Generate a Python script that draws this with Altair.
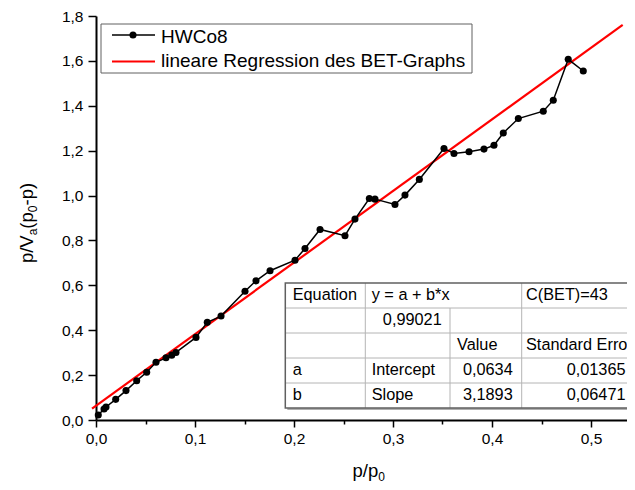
import altair as alt
import pandas as pd

# ---------------- data ----------------
p_rel = [0.0023, 0.0081, 0.0101, 0.0199, 0.0303, 0.0411, 0.0512, 0.0606, 0.0707, 0.0765,
         0.0808, 0.1010, 0.1124, 0.1263, 0.1505, 0.1616, 0.1758, 0.2010, 0.2111, 0.2263,
         0.2515, 0.2616, 0.2761, 0.2818, 0.3020, 0.3121, 0.3266, 0.3515, 0.3616, 0.3768,
         0.3919, 0.4020, 0.4114, 0.4266, 0.4518, 0.4619, 0.4770, 0.4922]
bet_y = [0.022, 0.049, 0.058, 0.092, 0.131, 0.175, 0.213, 0.257, 0.277, 0.289,
         0.301, 0.368, 0.435, 0.463, 0.574, 0.620, 0.665, 0.712, 0.764, 0.849,
         0.821, 0.895, 0.987, 0.984, 0.960, 1.002, 1.072, 1.210, 1.187, 1.195,
         1.207, 1.224, 1.279, 1.343, 1.376, 1.425, 1.607, 1.555]
reg_x = [-0.004, 0.532]
reg_y = [0.051, 1.760]

x_ticks = [0.0, 0.05, 0.1, 0.15, 0.2, 0.25, 0.3, 0.35, 0.4, 0.45, 0.5]
y_ticks = [0.0, 0.1, 0.2, 0.3, 0.4, 0.5, 0.6, 0.7, 0.8, 0.9, 1.0,
           1.1, 1.2, 1.3, 1.4, 1.5, 1.6, 1.7, 1.8]

series_names = ["HWCo8", "lineare Regression des BET-Graphs"]
table_cells = [
    ["Equation", "y = a + b*x", "", "C(BET)=43"],
    ["", "0,99021", "", ""],
    ["", "", "Value", "Standard Erro"],
    ["a", "Intercept", "0,0634", "0,01365"],
    ["b", "Slope", "3,1893", "0,06471"],
]
# axis titles split into (text, is_subscript) pieces
x_title = [("p/p", False), ("0", True)]
y_title = [("p/V", False), ("a", True), ("(p", False), ("0", True), ("-p)", False)]

# ---------------- layout ----------------
FONT = "Liberation Sans"
W, H = 531, 404
X_MAX = 531 / 990
FS_T, FS_SUB = 18.5, 12
DOT = 50

df = pd.DataFrame({"x": p_rel, "y": bet_y})
reg = pd.DataFrame({"x": reg_x, "y": reg_y})

x_major = "abs(datum.value*10 - round(datum.value*10)) < 1e-6"
y_major = "abs(datum.value*5 - round(datum.value*5)) < 1e-6"

xscale = alt.Scale(domain=[0, X_MAX], nice=False, zero=False)
yscale = alt.Scale(domain=[0, 1.8], nice=False)

common_axis = dict(
    grid=False, title="", labelFontSize=15.5, labelFont=FONT, labelColor="black",
    domainColor="black", domainWidth=2, tickColor="black", tickWidth=1.5,
    labelOverlap=False, labelFlush=False,
)
xaxis = alt.Axis(
    values=x_ticks,
    labelExpr=f"{x_major} ? replace(format(datum.value, '.1f'), '.', ',') : ''",
    tickSize={"condition": {"test": x_major, "value": 7}, "value": 4},
    labelPadding=4, **common_axis,
)
yaxis = alt.Axis(
    values=y_ticks,
    labelExpr=f"{y_major} ? replace(format(datum.value, '.1f'), '.', ',') : ''",
    tickSize={"condition": {"test": y_major, "value": 8}, "value": 4},
    labelPadding=5, **common_axis,
)

base = alt.Chart(df)
line = base.mark_line(color="black", strokeWidth=1.5).encode(
    x=alt.X("x:Q", scale=xscale, axis=xaxis),
    y=alt.Y("y:Q", scale=yscale, axis=yaxis),
)
pts = base.mark_circle(size=DOT, color="black", opacity=1).encode(
    x=alt.X("x:Q", scale=xscale), y=alt.Y("y:Q", scale=yscale)
)
regline = alt.Chart(reg).mark_line(color="#ff0000", strokeWidth=2.2, clip=False).encode(
    x=alt.X("x:Q", scale=xscale), y=alt.Y("y:Q", scale=yscale)
)

one = alt.Data(values=[{"a": 1}])
layers = [regline, line, pts]


def char_w(s, fs):
    widths = {"p": .556, "/": .278, "V": .667, "a": .556, "(": .333, ")": .333,
              "-": .333, "0": .556}
    return sum(widths.get(ch, .556) for ch in s) * fs


# ---- axis titles with real subscripts ----
xx = 256.5
for txt, sub in x_title:
    fs = FS_SUB if sub else FS_T
    layers.append(alt.Chart(one).mark_text(text=txt, align="left", baseline="alphabetic",
                                           fontSize=fs, font=FONT, color="black").encode(
        x=alt.value(xx), y=alt.value(460.5 + (4.5 if sub else 0))))
    xx += char_w(txt, fs)

total = sum(char_w(t, FS_SUB if s else FS_T) for t, s in y_title)
yy = 207 + total / 2
for txt, sub in y_title:
    fs = FS_SUB if sub else FS_T
    layers.append(alt.Chart(one).mark_text(text=txt, align="left", baseline="alphabetic",
                                           angle=270, fontSize=fs, font=FONT,
                                           color="black").encode(
        x=alt.value(-63.5 + (4.5 if sub else 0)), y=alt.value(yy)))
    yy -= char_w(txt, fs)

# ---- legend (decoration) ----
layers.append(alt.Chart(one).mark_rect(fill="white", stroke="#606060", strokeWidth=1).encode(
    x=alt.value(5), x2=alt.value(376), y=alt.value(8), y2=alt.value(57)))
layers.append(alt.Chart(one).mark_rule(color="black", strokeWidth=1.5).encode(
    x=alt.value(16), x2=alt.value(59), y=alt.value(19)))
layers.append(alt.Chart(one).mark_circle(size=DOT, color="black", opacity=1).encode(
    x=alt.value(37), y=alt.value(19)))
layers.append(alt.Chart(one).mark_rule(color="#ff0000", strokeWidth=2.2).encode(
    x=alt.value(16), x2=alt.value(59), y=alt.value(45.5)))
for name, ly in zip(series_names, [20.5, 44.5]):
    layers.append(alt.Chart(one).mark_text(text=name, align="left", baseline="middle",
                                           fontSize=19, font=FONT, color="black").encode(
        x=alt.value(65), y=alt.value(ly)))

# ---- statistics table (decoration) ----
col_edges = [189.3, 269.3, 354, 425.7, 545]
row_edges = [267, 292, 317, 342, 367, 392]
layers.append(alt.Chart(one).mark_rect(fill="#b0b0b0").encode(
    x=alt.value(col_edges[0] + 2), x2=alt.value(col_edges[-1]),
    y=alt.value(row_edges[0] + 2), y2=alt.value(row_edges[-1] + 2)))
layers.append(alt.Chart(one).mark_rect(fill="white").encode(
    x=alt.value(col_edges[0]), x2=alt.value(col_edges[-1]),
    y=alt.value(row_edges[0]), y2=alt.value(row_edges[-1])))
for ry in row_edges[1:-1]:
    layers.append(alt.Chart(one).mark_rule(color="#b4b4b4", strokeWidth=1).encode(
        x=alt.value(col_edges[0]), x2=alt.value(col_edges[-1]), y=alt.value(ry)))
for cx, y0 in [(col_edges[1], row_edges[0]), (col_edges[2], row_edges[1]), (col_edges[3], row_edges[0])]:
    layers.append(alt.Chart(one).mark_rule(color="#b4b4b4", strokeWidth=1).encode(
        x=alt.value(cx), y=alt.value(y0), y2=alt.value(row_edges[-1])))
layers.append(alt.Chart(one).mark_rect(fill=None, stroke="#606060", strokeWidth=1.5).encode(
    x=alt.value(col_edges[0]), x2=alt.value(col_edges[-1]),
    y=alt.value(row_edges[0]), y2=alt.value(row_edges[-1])))

left_x = [196.7, 275.7, 361, 430]
right_x = [None, 345.7, 416.7, 529.5]
right_aligned = {(1, 1), (3, 2), (4, 2), (3, 3), (4, 3)}
for r, row in enumerate(table_cells):
    yc = (row_edges[r] + row_edges[r + 1]) / 2 - 0.5
    for c, txt in enumerate(row):
        if not txt:
            continue
        if (r, c) in right_aligned:
            al, tx = "right", right_x[c]
        else:
            al, tx = "left", left_x[c]
        layers.append(alt.Chart(one).mark_text(text=txt, align=al, baseline="middle",
                                               fontSize=16.3, font=FONT, color="black").encode(
            x=alt.value(tx), y=alt.value(yc)))

chart = alt.layer(*layers).properties(
    width=W, height=H,
    padding={"left": 88, "top": 8, "right": 0, "bottom": 66},
    autosize=alt.AutoSizeParams(type="none"),
    background="white",
).configure_view(stroke=None)

chart.save("out.html", embed_options={"renderer": "svg", "actions": False})
